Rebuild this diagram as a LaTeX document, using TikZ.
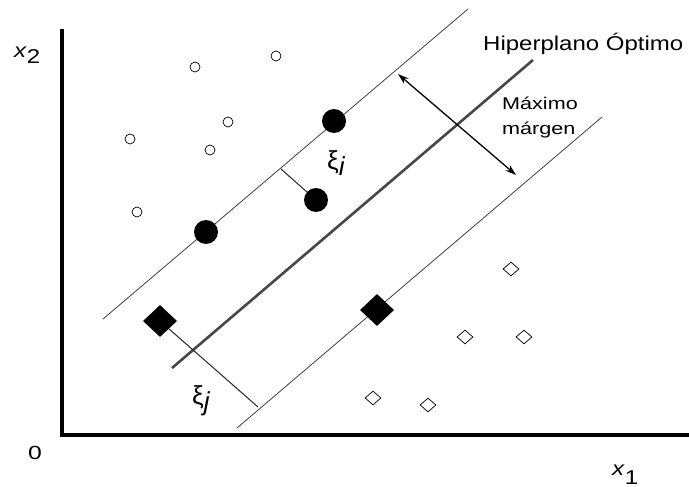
\documentclass[tikz,border=0pt]{standalone}
\usepackage{fontspec}
\setmainfont{Liberation Sans}
\usepackage{graphicx}
\usetikzlibrary{shapes.geometric,arrows.meta}
\newcommand\hst[1]{\scalebox{1.2}[1]{#1}}
\begin{document}
\begin{tikzpicture}[x=1pt,y=-1pt,
  opencirc/.style={circle,draw,line width=0.7pt,minimum size=10pt,inner sep=0pt},
  fillcirc/.style={circle,fill=black,minimum size=24pt,inner sep=0pt},
  opendia/.style={diamond,draw,line width=0.7pt,minimum width=16pt,minimum height=14pt,inner sep=0pt},
  filldia/.style={diamond,fill=black,minimum width=34pt,minimum height=32pt,inner sep=0pt},
  axisline/.style={line width=4.5pt,line join=miter},
  marginline/.style={line width=0.8pt,draw=black!75},
  hyperline/.style={line width=2.6pt,draw=black!72},
  conn/.style={line width=1pt,draw=black!85},
  lbl/.style={inner sep=0pt,anchor=base west}]
\useasboundingbox[fill=white] (0,0) rectangle (689,487);
% axes
\coordinate (ytop) at (62,29);
\coordinate (orig) at (62,435);
\coordinate (xend) at (689,435);
\draw[axisline] (ytop) -- (orig) -- (xend);
% separating lines
\coordinate (u1) at (103,319); \coordinate (u2) at (468,9);
\coordinate (m1) at (172,368); \coordinate (m2) at (533,60);
\coordinate (l1) at (237,428); \coordinate (l2) at (602,117);
\draw[marginline] (u1) -- (u2);
\draw[hyperline] (m1) -- (m2);
\draw[marginline] (l1) -- (l2);
% open circles
\node[opencirc] (oc1) at (195,67) {};
\node[opencirc] (oc2) at (276,56) {};
\node[opencirc] (oc3) at (228,122) {};
\node[opencirc] (oc4) at (130,139) {};
\node[opencirc] (oc5) at (210,150) {};
\node[opencirc] (oc6) at (137,212) {};
% filled circles
\node[fillcirc] (fc1) at (334,121) {};
\node[fillcirc] (fc2) at (316,200) {};
\node[fillcirc] (fc3) at (206,232) {};
% open diamonds
\node[opendia] (od1) at (511,269) {};
\node[opendia] (od2) at (465,337) {};
\node[opendia] (od3) at (524,337) {};
\node[opendia] (od4) at (373,398) {};
\node[opendia] (od5) at (428,405) {};
% filled diamonds
\node[filldia] (fd1) at (160,321) {};
\node[filldia] (fd2) at (377,310) {};
% slack connectors
\coordinate (xii) at (281,169);
\draw[conn] (xii) -- (fc2);
\coordinate (xij) at (258,407);
\draw[conn] (fd1) -- (xij);
% margin arrow
\coordinate (a1) at (398,74);
\coordinate (a2) at (516,175);
\draw[line width=1.3pt,{Stealth[length=11pt,width=7pt]}-{Stealth[length=11pt,width=7pt]}] (a1) -- (a2);
% labels
\node[lbl,font=\fontsize{20}{24}\selectfont] (hip) at (483,51) {\hst{Hiperplano Óptimo}};
\node[lbl,font=\fontsize{17}{20}\selectfont] (max1) at (502,110) {\scalebox{1.27}[1]{Máximo}};
\node[lbl,font=\fontsize{17}{20}\selectfont] (max2) at (502,135) {\scalebox{1.27}[1]{márgen}};
\node[lbl,font=\fontsize{20}{24}\selectfont] (lx2) at (14,58) {\hst{\textit{x}\raisebox{-6pt}{2}}};
\node[lbl,font=\fontsize{19}{24}\selectfont] (l0) at (28,459) {\scalebox{1.3}[1]{0}};
\node[lbl,font=\fontsize{20}{24}\selectfont] (lx1) at (612,475) {\hst{\textit{x}\raisebox{-9pt}{1}}};
\node[lbl,font=\fontsize{26}{30}\selectfont] (lxii) at (327,169) {ξ\raisebox{-6pt}{\textit{i}}};
\node[lbl,font=\fontsize{26}{30}\selectfont] (lxij) at (192,404) {ξ\raisebox{-6pt}{\textit{j}}};
\end{tikzpicture}
\end{document}
